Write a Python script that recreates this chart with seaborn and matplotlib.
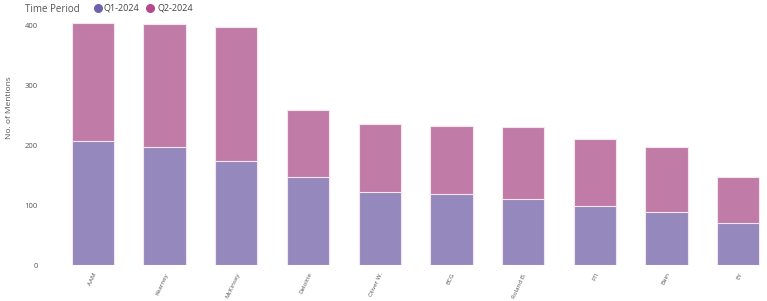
import matplotlib
matplotlib.use("Agg")
import matplotlib.pyplot as plt
from matplotlib.lines import Line2D
import seaborn as sns
import pandas as pd
import numpy as np

firms = ["AAM", "Kearney", "McKinsey", "Deloitte", "Oliver W.", "BCG", "Roland B.", "FTI", "Bain", "EY"]
q1_2024 = [207, 197, 173, 147, 122, 118, 110, 98, 88, 70]
q2_2024 = [196, 205, 224, 111, 113, 114, 120, 112, 109, 77]
y_ticks = [0, 100, 200, 300, 400]

sns.set_theme(style="white")
plt.rcParams['font.family'] = ['Open Sans', 'DejaVu Sans']

df = pd.DataFrame({"firm": firms, "q1": q1_2024, "q2": q2_2024})
df["total"] = df["q1"] + df["q2"]

c_q1 = "#9588bc"
c_q2 = "#c07ca6"

fig = plt.figure(figsize=(7.67, 3.01), dpi=100)
ax = fig.add_axes([57/767, 36/301, 1 - 57/767, (265-19)/301])

sns.barplot(data=df, x="firm", y="total", color=c_q2, saturation=1, width=0.59,
            edgecolor="#f3e6ef", linewidth=0.8, ax=ax)
sns.barplot(data=df, x="firm", y="q1", color=c_q1, saturation=1, width=0.59,
            edgecolor="#f3e6ef", linewidth=0.8, ax=ax)

ax.set_ylim(0, 410)
ax.set_xlim(-0.5, 9.4)
ax.set_yticks(y_ticks)
ax.set_yticklabels([str(v) for v in y_ticks], fontsize=5.5, color="#555555")
ax.set_xticks(range(len(firms)))
ax.set_xticklabels(firms, rotation=65, ha="right", rotation_mode="anchor",
                   fontsize=4.5, color="#555555")
ax.tick_params(axis="x", length=0, pad=5)
ax.tick_params(axis="y", length=0, pad=14)
ax.set_xlabel("")
ax.set_ylabel("No. of Mentions", fontsize=6, color="#555555")
ax.yaxis.set_label_coords(-0.062, 0.64)
for s in ax.spines.values():
    s.set_visible(False)

# legend
fig.text(25/767, 1 - 10/301, "Time Period", fontsize=7, color="#555555", va="center", ha="left")
fig.add_artist(Line2D([98/767], [1 - 8/301], marker="o", markersize=5.5, color="#6f61ad",
                      linestyle="none", transform=fig.transFigure))
fig.text(104/767, 1 - 8/301, "Q1-2024", fontsize=6.5, color="#444444", va="center", ha="left")
fig.add_artist(Line2D([150/767], [1 - 8/301], marker="o", markersize=5.5, color="#b5498c",
                      linestyle="none", transform=fig.transFigure))
fig.text(157/767, 1 - 8/301, "Q2-2024", fontsize=6.5, color="#444444", va="center", ha="left")

fig.savefig("out.png", dpi=100)
